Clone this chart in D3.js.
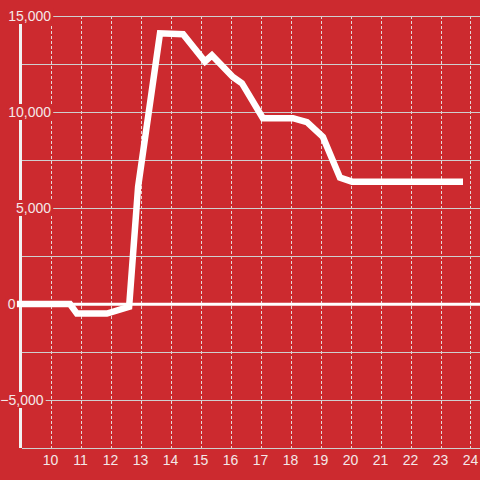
<!DOCTYPE html>
<html>
<head>
<meta charset="utf-8">
<script src="https://cdn.jsdelivr.net/npm/d3@7"></script>
<style>
html,body{margin:0;padding:0;background:#cc2a2f;}
svg{display:block;}
text{font-family:"Liberation Sans",Arial,sans-serif;}
</style>
</head>
<body>
<svg id="chart" width="480" height="480"></svg>
<script>
const hours = [8.88, 10.65, 10.88, 11.88, 12.62, 12.92, 13.65, 14.42, 15.15, 15.38, 16.08, 16.38, 17.08, 18.08, 18.55, 19.08, 19.65, 20.05, 23.75];
const values = [0, 0, -500, -500, -150, 6100, 14100, 14050, 12630, 12950, 11820, 11500, 9680, 9680, 9470, 8700, 6580, 6370, 6370];
const xTicks = [10, 11, 12, 13, 14, 15, 16, 17, 18, 19, 20, 21, 22, 23, 24];
const yGrid = [-7500, -5000, -2500, 0, 2500, 5000, 7500, 10000, 12500, 15000];
const yLabels = [-5000, 0, 5000, 10000, 15000];

const W = 480, H = 480;
const bg = "#cc2a2f";
const svg = d3.select("#chart");
svg.append("rect").attr("width", W).attr("height", H).attr("fill", bg);

const x = d3.scaleLinear().domain([9, 24.3]).range([20.5, 479.5]);
const y = d3.scaleLinear().domain([-7500, 15000]).range([448, 16]);

// label right edge per value (layout only)
const labelRight = v => v === 0 ? 15.5 : (v < 0 ? 43.5 : 51);

// vertical dashed grid
svg.append("g").selectAll("line").data(xTicks).join("line")
  .attr("x1", d => Math.round(x(d)) + 0.5).attr("x2", d => Math.round(x(d)) + 0.5)
  .attr("y1", y(15000)).attr("y2", y(-7500))
  .attr("stroke", "#e6d6d6").attr("stroke-width", 1).attr("stroke-dasharray", "3,2");

// horizontal grid
svg.append("g").selectAll("line").data(yGrid.filter(d => d !== 0)).join("line")
  .attr("x1", 22).attr("x2", W)
  .attr("y1", d => Math.round(y(d)) + 0.5).attr("y2", d => Math.round(y(d)) + 0.5)
  .attr("stroke", "#cfcfcf").attr("stroke-width", 1.2);

// zero line
svg.append("line").attr("x1", 17).attr("x2", W)
  .attr("y1", y(0) + 0.3).attr("y2", y(0) + 0.3)
  .attr("stroke", "#ffffff").attr("stroke-width", 3);

// vertical axis line
svg.append("line").attr("x1", 20.5).attr("x2", 20.5)
  .attr("y1", y(15000)).attr("y2", y(-7500))
  .attr("stroke", "#f2f2f2").attr("stroke-width", 3);

// y labels with background boxes
const fmt = d3.format(",");
const yl = svg.append("g").selectAll("g").data(yLabels).join("g");
yl.each(function(d) {
  const g = d3.select(this);
  const t = g.append("text").attr("x", labelRight(d)).attr("y", y(d) + 5)
    .attr("text-anchor", "end").attr("font-size", 14).attr("fill", "#f4e8e8")
    .text(fmt(d));
  const b = t.node().getBBox();
  g.insert("rect", "text").attr("x", b.x - 2).attr("y", y(d) - 8)
    .attr("width", b.width + 4).attr("height", 16).attr("fill", bg);
});

// data line
const line = d3.line().x((d, i) => x(hours[i])).y(d => y(d));
svg.append("path").datum(values).attr("d", line)
  .attr("fill", "none").attr("stroke", "#ffffff").attr("stroke-width", 6.5)
  .attr("stroke-linejoin", "miter").attr("stroke-linecap", "butt");

// x labels
svg.append("g").selectAll("text").data(xTicks).join("text")
  .attr("x", d => x(d)).attr("y", 465)
  .attr("text-anchor", "middle").attr("font-size", 14).attr("fill", "#f4e8e8")
  .text(d => d);
</script>
</body>
</html>
